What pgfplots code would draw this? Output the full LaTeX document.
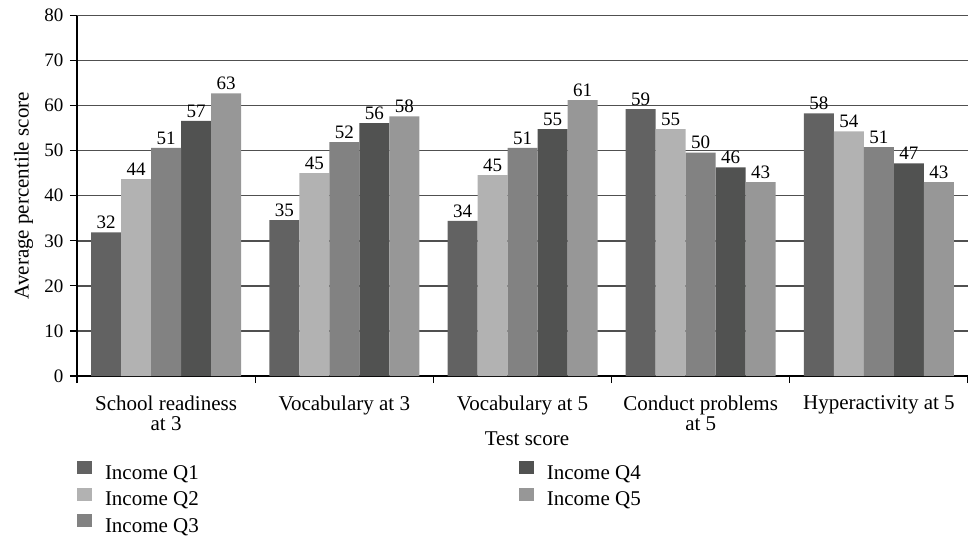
\documentclass[border=0pt]{standalone}
\usepackage{pgfplots}
\pgfplotsset{compat=1.18}
\usepackage{fontspec}
\setmainfont{Liberation Serif}
\newcommand\txtfont{\fontsize{21bp}{20.5bp}\selectfont}
\newcommand\numfont{\fontsize{19bp}{20bp}\selectfont}
\definecolor{cQa}{HTML}{626262}
\definecolor{cQb}{HTML}{B2B2B2}
\definecolor{cQc}{HTML}{828282}
\definecolor{cQd}{HTML}{515251}
\definecolor{cQe}{HTML}{979797}
\definecolor{gridc}{HTML}{505050}
\begin{document}
\begin{tikzpicture}
\useasboundingbox (0,0) rectangle (968bp,-538bp);
\begin{axis}[
  at={(77bp,-376bp)}, anchor=south west,
  width=891bp, height=360.5bp, scale only axis,
  /pgf/number format/assume math mode=true,
  ybar, bar width=30bp,
  xmin=-0.5, xmax=4.5, ymin=0, ymax=80,
  axis lines=left,
  axis line style={-, line width=1.4bp, black},
  xtick={-0.5,0.5,1.5,2.5,3.5,4.5},
  x tick label as interval,
  xticklabels={School readiness\\at 3, Vocabulary at 3, Vocabulary at 5, Conduct problems\\at 5, Hyperactivity at 5},
  xticklabel style={font=\txtfont, align=center, anchor=north, inner sep=0pt, yshift=-12.5bp},
  ytick={0,10,...,80},
  yticklabel style={font=\numfont, xshift=-3bp},
  tick align=outside,
  major tick length=7bp,
  tick style={line width=1.2bp, black},
  ymajorgrids=true,
  grid style={line width=1.4bp, gridc},
  xlabel={Test score},
  xlabel style={font=\txtfont, at={(rel axis cs:0.505,-0.1914)}, anchor=base},
  ylabel={Average percentile score},
  ylabel style={font=\txtfont, at={(rel axis cs:-0.0600,0.5)}, rotate=0, anchor=center},
  nodes near coords={\pgfmathprintnumber[fixed,precision=0]{\pgfplotspointmeta}},
  every node near coord/.append style={font=\numfont, black},
  legend image code/.code={\fill[#1] (0bp,0bp) rectangle (15bp,13bp);},
  legend columns=2,
  legend cell align=left,
  legend style={draw=none, fill=none, at={(0,-0.2358)}, anchor=north west,
    inner sep=0pt, outer sep=0pt, font=\txtfont,
    nodes={inner sep=0pt, text height=14bp, text depth=4bp},
    row sep=4.5bp,
    /tikz/every odd column/.style={column sep=13bp},
    /tikz/every even column/.style={column sep=320bp}},
]
\addplot[fill=cQa, draw=none, bar shift=-60bp] coordinates {(0,31.9) (1,34.6) (2,34.4) (3,59.2) (4,58.3)};
\addlegendentry{Income Q1}
\addplot[fill=cQd, draw=none, bar shift=30bp] coordinates {(0,56.6) (1,56.1) (2,54.8) (3,46.3) (4,47.2)};
\addlegendentry{Income Q4}
\addplot[fill=cQb, draw=none, bar shift=-30bp] coordinates {(0,43.7) (1,45.0) (2,44.6) (3,54.8) (4,54.3)};
\addlegendentry{Income Q2}
\addplot[fill=cQe, draw=none, bar shift=60bp] coordinates {(0,62.7) (1,57.6) (2,61.2) (3,43.0) (4,43.0)};
\addlegendentry{Income Q5}
\addplot[fill=cQc, draw=none, bar shift=0bp] coordinates {(0,50.6) (1,51.9) (2,50.6) (3,49.6) (4,50.8)};
\addlegendentry{Income Q3}
\end{axis}
\end{tikzpicture}
\end{document}
